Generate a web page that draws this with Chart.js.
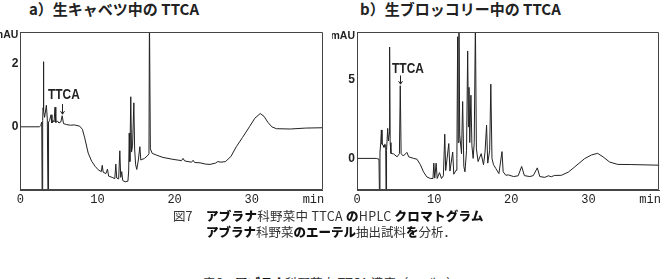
<!DOCTYPE html>
<html>
<head>
<meta charset="utf-8">
<script src="https://cdn.jsdelivr.net/npm/chart.js@4.4.1/dist/chart.umd.min.js"></script>
<style>
  html, body { margin: 0; padding: 0; background: #fff; }
  body { width: 664px; height: 279px; position: relative; overflow: hidden; font-family: "Noto Sans CJK JP", sans-serif; color: #222; }
  .box { position: absolute; top: 0; width: 332px; height: 210px; }
  .title { position: absolute; top: -2px; font-size: 15px; font-weight: bold; white-space: nowrap; color: #222; }
  .cap { position: absolute; font-size: 12.5px; white-space: nowrap; color: #333; line-height: 16px; }
  .cap b { font-weight: 900; color: #111; }
</style>
</head>
<body>
<div class="title" style="left:29px">a）生キャベツ中の TTCA</div>
<div class="title" style="left:360px">b）生ブロッコリー中の TTCA</div>
<div class="box" style="left:0"><canvas id="left" width="332" height="210"></canvas></div>
<div class="box" style="left:332px"><canvas id="right" width="332" height="210"></canvas></div>

<div class="cap" style="left:173px;top:208px">図7</div>
<div class="cap" style="left:206px;top:208px;letter-spacing:0.3px"><b>アブラナ</b>科野菜中 TTCA <b>の</b>HPLC <b>クロマトグラム</b></div>
<div class="cap" style="left:206px;top:224px"><b>アブラナ</b>科野菜<b>のエーテル</b>抽出試料<b>を</b>分析．</div>
<div class="cap" style="left:203px;top:275px">表6　<b>アブラナ</b>科野菜中 TTCA 濃度（mg/kg）</div>

<script>
// a) raw cabbage: retention time (min) / absorbance (mAU)
const cabbageTime = [0, 2.5, 2.65, 2.78, 2.84, 2.9, 2.95, 2.99, 3.05, 3.15, 3.38, 3.5, 3.6, 3.66, 3.8, 3.98, 4.1, 4.25, 4.38, 4.5, 4.6, 4.85, 5.0, 5.25, 5.43, 5.6, 6.0, 6.5, 7.0, 7.7, 8.05, 8.35, 8.8, 9.25, 9.7, 10.1, 10.5, 10.62, 10.75, 11.1, 11.3, 11.45, 11.9, 12.25, 12.38, 12.5, 12.75, 12.9, 13.02, 13.15, 13.28, 13.6, 13.95, 14.05, 14.12, 14.2, 14.32, 14.42, 14.55, 14.72, 14.82, 14.95, 15.1, 15.3, 15.5, 15.62, 16.1, 16.55, 16.68, 16.74, 16.8, 16.86, 17.1, 17.7, 18.5, 19.8, 20.9, 21.1, 21.3, 22.2, 22.4, 22.6, 23.3, 24.0, 24.6, 25.3, 25.6, 26.0, 26.6, 27.3, 28.0, 28.8, 29.7, 30.4, 31.1, 31.6, 32.1, 32.6, 33.2, 35.0, 37.0, 39.2];
const cabbageAbs = [0, 0, 0.04, 0.15, -2.6, 0.2, 0.6, 2.06, 0.5, 0.3, 0.68, 0.25, -2.6, 0.15, 0.2, 0.38, 0.12, 0.2, 0.15, 0.62, 0.14, 0.18, 0.12, 0.15, 0.35, 0.1, 0.07, 0.05, 0.06, 0.02, -0.08, -0.35, -0.83, -1.09, -1.25, -1.36, -1.42, -1.22, -1.44, -1.48, -1.34, -1.56, -1.6, -1.64, -1.18, -1.62, -1.65, -0.76, -1.6, -1.42, -1.7, -1.74, -1.72, -1.4, -0.2, -1.1, 0.95, -0.8, -0.6, 0.76, -0.7, -1.2, -1.35, -1.05, -0.63, -1.05, -1.0, -0.9, -0.85, 3.6, 3.6, -0.7, -0.84, -0.9, -0.97, -1.03, -1.07, -1.0, -1.08, -1.12, -1.06, -1.13, -1.14, -1.18, -1.19, -1.15, -1.1, -1.12, -1.1, -0.94, -0.63, -0.34, 0.0, 0.27, 0.42, 0.33, 0.14, 0.0, -0.06, -0.07, -0.04, -0.03];

// b) raw broccoli
const broccoliTime = [0, 2.5, 2.85, 2.92, 2.98, 3.08, 3.16, 3.24, 3.38, 3.5, 3.6, 3.72, 3.77, 3.83, 3.98, 4.08, 4.16, 4.23, 4.3, 4.4, 4.75, 5.2, 5.5, 5.61, 5.72, 6.0, 6.47, 6.7, 7.35, 7.77, 8.2, 8.62, 9.05, 9.5, 9.85, 9.96, 10.08, 10.26, 10.4, 10.7, 10.95, 11.2, 11.38, 11.5, 11.9, 12.05, 12.41, 12.55, 12.84, 12.95, 13.05, 13.12, 13.22, 13.32, 13.55, 13.7, 13.85, 14.0, 14.2, 14.35, 14.45, 14.52, 14.62, 14.77, 14.9, 15.06, 15.2, 15.35, 15.48, 15.7, 16.1, 16.4, 16.6, 16.8, 16.95, 17.2, 17.35, 17.5, 17.7, 18.0, 18.4, 18.8, 18.95, 19.3, 19.6, 20.3, 20.9, 21.35, 21.7, 22.4, 22.85, 23.38, 23.7, 24.35, 24.8, 25.2, 25.6, 26.5, 27.4, 28.2, 29.5, 30.4, 31.2, 31.9, 32.75, 33.8, 35.5, 39.2];
const broccoliAbs = [0, 0, -0.05, -2.6, 0.4, 1.0, 1.8, 0.9, 0.85, 0.7, 0.9, 0.85, -2.6, 0.5, 1.9, 1.1, 1.5, 7.05, 1.0, 0.32, 0.28, 0.1, 0.3, 4.6, 0.3, 0.15, 0.38, 0.1, 0.0, -0.05, -0.38, -0.85, -1.17, -1.27, -1.27, -0.3, -1.25, -0.3, -1.27, -0.9, -1.27, -1.1, 1.53, -0.77, 0.94, -0.8, 0.4, -1.0, -0.75, 0.0, 7.7, 1.0, 8.6, 1.5, 0.3, 3.6, -0.5, -0.85, 0.5, 6.8, 2.0, 4.5, 1.0, 4.0, 0.8, 0.0, 1.0, 8.6, 0.6, -0.2, 0.3, -0.4, 0.4, 2.1, -0.3, 0.5, 4.7, 0.0, -0.4, -0.64, -0.96, 0.43, -0.85, -1.07, -1.04, -1.15, -1.1, -0.51, -1.09, -1.15, -1.09, -0.6, -1.15, -1.2, -1.1, -1.16, -1.08, -1.07, -0.87, -0.55, -0.02, 0.22, 0.32, 0.1, -0.23, -0.38, -0.39, -0.43];

// axis ticks
const timeTicks = [0, 10, 20, 30];
const cabbageTicks = [0, 2];
const broccoliTicks = [0, 5];

const lineColor = '#222';
const frameColor = '#444';

// top/right frame lines plus the TTCA label and arrow
const framePlugin = {
  id: 'frame',
  afterDraw(chart, args, opts) {
    const { ctx, chartArea: a, scales: { x, y } } = chart;
    const l = Math.round(a.left) + 0.5, r = Math.round(a.right) - 0.5;
    const t = Math.round(a.top) + 0.5, b = Math.round(a.bottom) - 0.5;
    ctx.save();
    ctx.strokeStyle = frameColor;
    ctx.lineWidth = 1;
    ctx.beginPath();
    ctx.moveTo(l, b);
    ctx.lineTo(l, t);
    ctx.lineTo(r, t);
    ctx.lineTo(r, b);
    ctx.lineTo(l, b);
    ctx.stroke();

    // condensed bold label like the scanned figure
    ctx.fillStyle = '#222';
    ctx.font = 'bold 14px "Liberation Sans", sans-serif';
    ctx.textBaseline = 'middle';
    ctx.save();
    ctx.translate(x.getPixelForValue(opts.labelAt[0]), y.getPixelForValue(opts.labelAt[1]));
    ctx.scale(0.85, 1);
    ctx.fillText('TTCA', 0, 0);
    ctx.restore();

    // little downward arrow onto the TTCA peak
    const ax = Math.round(x.getPixelForValue(opts.arrowAt[0])) + 0.5;
    const y0 = y.getPixelForValue(opts.arrowAt[1]);
    const y1 = y.getPixelForValue(opts.arrowAt[2]);
    ctx.strokeStyle = lineColor;
    ctx.beginPath();
    ctx.moveTo(ax, y0);
    ctx.lineTo(ax, y1);
    ctx.moveTo(ax - 2, y1 - 3);
    ctx.lineTo(ax, y1);
    ctx.lineTo(ax + 2, y1 - 3);
    ctx.stroke();
    ctx.restore();
  }
};

function makeChart(id, times, values, yMin, yMax, yTicks, unitAt, leftWidth, rightPad, frameOpts) {
  const ctx = document.getElementById(id).getContext('2d');
  return new Chart(ctx, {
    type: 'line',
    data: {
      datasets: [{
        data: times.map((t, i) => ({ x: t, y: values[i] })),
        borderColor: lineColor,
        borderWidth: 1,
        pointRadius: 0,
        tension: 0
      }]
    },
    options: {
      responsive: false,
      animation: false,
      layout: { padding: { top: 32, right: rightPad, left: 0, bottom: 0 } },
      plugins: {
        legend: { display: false },
        tooltip: { enabled: false },
        frame: frameOpts
      },
      scales: {
        x: {
          type: 'linear',
          min: 0,
          max: 39.2,
          grid: { display: false, drawTicks: false },
          border: { display: true, color: frameColor },
          afterBuildTicks: (scale) => {
            scale.ticks = timeTicks.concat([38]).map(v => ({ value: v }));
          },
          afterFit: (scale) => { scale.height = 20; },
          ticks: {
            autoSkip: false,
            maxRotation: 0,
            padding: 3,
            color: '#222',
            font: { family: '"Liberation Mono", "DejaVu Sans Mono", monospace', size: 12 },
            callback: (value) => value === 38 ? 'min' : value
          }
        },
        y: {
          min: yMin,
          max: yMax,
          grid: { display: false, drawTicks: false },
          border: { display: true, color: frameColor },
          afterBuildTicks: (scale) => {
            scale.ticks = yTicks.concat([unitAt]).map(v => ({ value: v }));
          },
          afterFit: (scale) => { scale.width = leftWidth; },
          ticks: {
            padding: 2,
            color: '#222',
            font: (c) => ({
              family: '"Liberation Sans", sans-serif',
              size: c.tick && c.tick.value === unitAt ? 10.5 : 12,
              weight: 'bold'
            }),
            callback: (value) => value === unitAt ? 'mAU' : value
          }
        }
      }
    },
    plugins: [framePlugin]
  });
}

makeChart('left', cabbageTime, cabbageAbs, -2, 3, cabbageTicks, 2.9, 20.3, 9.3,
  { labelAt: [3.6, 1.0], arrowAt: [5.43, 0.72, 0.4] });
makeChart('right', broccoliTime, broccoliAbs, -2, 8, broccoliTicks, 7.75, 25, 3.7,
  { labelAt: [4.55, 5.65], arrowAt: [5.61, 5.25, 4.7] });
</script>
</body>
</html>
